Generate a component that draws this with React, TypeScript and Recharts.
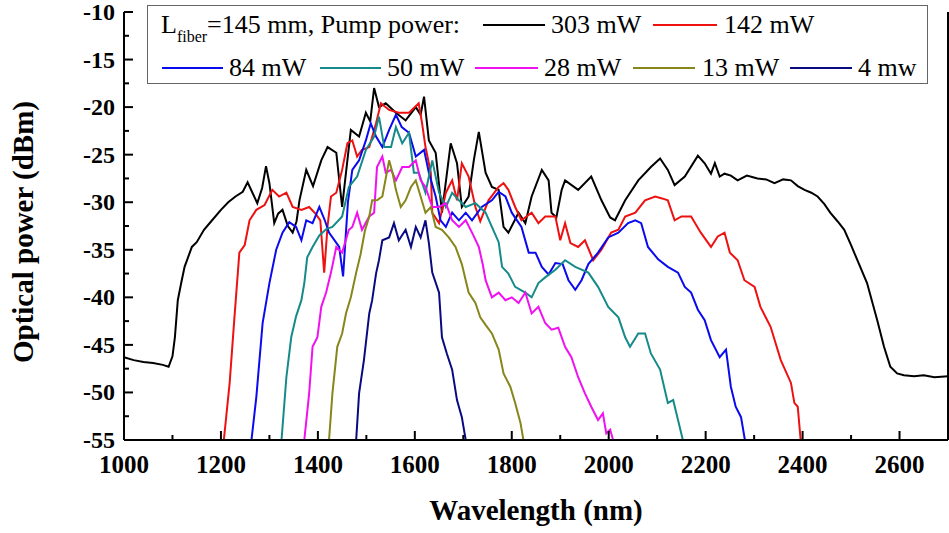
import React from "react";
import { LineChart, Line, XAxis, YAxis } from "recharts";

// 303 mW
const wl303 = [1000, 1020, 1040, 1060, 1080, 1092, 1100, 1105, 1111, 1118, 1125, 1140, 1150, 1165, 1180, 1200, 1215, 1230, 1245, 1255, 1265, 1275, 1285, 1293, 1300, 1310, 1318, 1327, 1338, 1348, 1356, 1362, 1376, 1390, 1407, 1420, 1438, 1450, 1468, 1485, 1499, 1508, 1516, 1526, 1540, 1561, 1581, 1602, 1612, 1619, 1629, 1643, 1656, 1674, 1687, 1697, 1711, 1722, 1732, 1746, 1759, 1773, 1783, 1793, 1814, 1828, 1841, 1862, 1876, 1882, 1892, 1903, 1910, 1937, 1964, 1985, 2003, 2013, 2034, 2061, 2087, 2106, 2122, 2136, 2157, 2184, 2198, 2211, 2219, 2229, 2239, 2252, 2266, 2285, 2307, 2325, 2342, 2360, 2376, 2390, 2404, 2418, 2431, 2445, 2457, 2472, 2486, 2500, 2513, 2533, 2554, 2568, 2581, 2595, 2609, 2630, 2650, 2672, 2700];
const p303 = [-46.3, -46.6, -46.8, -46.9, -47.1, -47.3, -46.2, -44.2, -40.3, -38.5, -36.8, -34.7, -34.2, -32.9, -32.0, -30.8, -30.0, -29.4, -28.9, -27.9, -29.0, -30.1, -28.5, -26.2, -28.0, -32.2, -31.2, -30.8, -32.5, -33.2, -32.0, -29.8, -26.6, -28.3, -25.6, -24.2, -24.8, -30.5, -22.4, -23.1, -20.6, -21.5, -18.0, -20.0, -19.6, -20.6, -21.4, -20.0, -20.8, -18.9, -23.5, -24.8, -31.1, -23.8, -25.9, -30.5, -29.4, -25.5, -22.6, -26.9, -28.4, -28.7, -32.6, -33.2, -31.1, -32.2, -29.4, -26.6, -27.7, -31.1, -31.6, -28.7, -27.7, -28.7, -27.3, -29.8, -31.6, -31.9, -29.8, -27.7, -26.3, -25.4, -26.6, -28.2, -27.3, -25.1, -25.9, -27.0, -25.9, -27.3, -27.0, -27.2, -27.7, -27.2, -27.5, -27.6, -28.0, -27.6, -27.7, -28.3, -28.7, -29.0, -29.4, -30.2, -31.1, -32.0, -32.9, -34.5, -36.1, -38.5, -42.4, -45.2, -47.3, -48.0, -48.2, -48.3, -48.2, -48.4, -48.3];

// 142 mW
const wl142 = [1206, 1218, 1228, 1238, 1249, 1259, 1273, 1290, 1306, 1320, 1335, 1348, 1366, 1382, 1395, 1405, 1413, 1420, 1427, 1438, 1450, 1461, 1471, 1481, 1491, 1506, 1520, 1530, 1547, 1567, 1588, 1608, 1615, 1622, 1633, 1636, 1650, 1664, 1677, 1687, 1697, 1711, 1725, 1735, 1752, 1773, 1783, 1793, 1807, 1820, 1841, 1855, 1869, 1890, 1900, 1910, 1921, 1937, 1951, 1968, 1985, 2005, 2020, 2034, 2055, 2075, 2096, 2110, 2122, 2136, 2150, 2170, 2190, 2211, 2225, 2239, 2250, 2266, 2280, 2301, 2313, 2334, 2355, 2376, 2383, 2390, 2396];
const p142 = [-55, -49, -42, -35.3, -34.5, -31.9, -30.8, -30.3, -28.7, -29.4, -29, -30.5, -30.8, -30.5, -31.2, -31.9, -37.4, -32.5, -29.4, -29, -26.6, -23.8, -23.5, -25.2, -24.5, -24.2, -21.7, -19.6, -20.3, -20.6, -20.6, -19.6, -21.7, -24.2, -26.9, -31.1, -32.2, -29, -27.7, -29.8, -25.9, -27.3, -30.5, -32.0, -29.8, -28.4, -28, -28.7, -30.5, -31.9, -31.1, -32.2, -31.5, -31.5, -34, -32.2, -34.3, -34.7, -34, -36.1, -35, -33.2, -32.9, -31.5, -31.1, -29.8, -29.4, -29.6, -29.8, -31.9, -31.5, -31.5, -33.2, -34.7, -33.6, -33.2, -35.3, -36.1, -38.2, -38.9, -41, -43.1, -46.6, -49, -51.1, -51.5, -55];

// 84 mW
const wl84 = [1263, 1273, 1286, 1300, 1314, 1327, 1341, 1355, 1366, 1376, 1389, 1403, 1415, 1423, 1444, 1452, 1462, 1471, 1485, 1499, 1509, 1520, 1533, 1547, 1561, 1573, 1588, 1602, 1619, 1629, 1643, 1653, 1664, 1677, 1691, 1705, 1718, 1738, 1759, 1773, 1787, 1800, 1820, 1835, 1849, 1862, 1876, 1890, 1905, 1917, 1931, 1944, 1958, 1978, 1999, 2020, 2040, 2055, 2067, 2081, 2102, 2122, 2143, 2157, 2170, 2184, 2198, 2211, 2229, 2242, 2252, 2262, 2273, 2281];
const p84 = [-55, -50.5, -42.7, -38.5, -35, -33.2, -32.1, -32.6, -34, -31.9, -32.2, -30.5, -32.0, -33.2, -34.7, -37.8, -30.0, -26.6, -25.6, -23.5, -21.7, -23.1, -24.2, -22.4, -20.8, -22.1, -22.7, -25.2, -24.5, -26.9, -29.4, -31.9, -32.6, -31.1, -31.9, -31.1, -31.9, -30.5, -29.8, -28.9, -29.4, -31.1, -32.6, -35.3, -35.3, -36.8, -37.6, -36.4, -36.5, -38.2, -39.2, -38.2, -36.5, -35.3, -33.7, -33.2, -32.2, -31.9, -32.2, -34.7, -36.0, -36.8, -37.4, -38.9, -39.5, -41.3, -42.4, -44.5, -46.3, -45.5, -49.4, -51.5, -52.6, -55];

// 50 mW
const wl50 = [1325, 1335, 1345, 1355, 1366, 1372, 1378, 1389, 1403, 1418, 1430, 1450, 1464, 1481, 1499, 1516, 1526, 1537, 1551, 1561, 1574, 1588, 1598, 1608, 1622, 1636, 1650, 1664, 1677, 1691, 1705, 1725, 1746, 1759, 1773, 1780, 1793, 1807, 1828, 1841, 1855, 1869, 1890, 1910, 1931, 1958, 1978, 1999, 2020, 2034, 2044, 2061, 2075, 2087, 2106, 2122, 2133, 2143, 2153];
const p50 = [-55, -48.4, -44.2, -42, -40.3, -38.5, -35.8, -34.7, -33.5, -32.8, -32.6, -31.5, -28.4, -27.3, -24.5, -23.1, -21, -24.2, -24.2, -22.1, -23.8, -22.7, -26.9, -26.9, -29, -25.6, -29, -30.5, -29, -29.8, -30.5, -30.1, -31.1, -32.6, -34.2, -36.8, -37.5, -38.9, -39.5, -40, -38.5, -37.9, -37.1, -36.1, -36.8, -37.4, -38.9, -41, -42.1, -44.2, -45.2, -43.8, -43.8, -45.9, -47.6, -51.1, -50.8, -52.9, -55];

// 28 mW
const wl28 = [1372, 1382, 1389, 1399, 1407, 1417, 1427, 1438, 1450, 1464, 1471, 1481, 1491, 1506, 1516, 1522, 1533, 1540, 1551, 1561, 1574, 1588, 1602, 1612, 1622, 1636, 1650, 1664, 1677, 1691, 1705, 1718, 1732, 1740, 1746, 1759, 1773, 1787, 1800, 1814, 1828, 1841, 1855, 1869, 1882, 1896, 1910, 1923, 1937, 1951, 1964, 1978, 1988, 1995, 2003, 2009];
const p28 = [-55, -50.1, -45.2, -44.2, -41, -39.5, -37.4, -34.7, -35.3, -32.9, -32.6, -31.1, -32.9, -31.5, -31.1, -26.3, -25.2, -26.9, -26.6, -27.7, -26.3, -26.3, -25.6, -27.7, -28.4, -30.5, -30.5, -30.1, -31.9, -32.6, -31.9, -33.2, -34.7, -36.5, -38.2, -40, -39.5, -40.3, -40, -40.6, -39.5, -41.7, -41, -42.7, -43.4, -43.2, -45.2, -46.3, -48.4, -50.1, -51.5, -52.9, -52.2, -54.3, -53.9, -55];

// 13 mW
const wl13 = [1423, 1430, 1440, 1450, 1458, 1468, 1479, 1488, 1497, 1506, 1512, 1522, 1533, 1547, 1554, 1561, 1571, 1581, 1592, 1602, 1612, 1622, 1633, 1643, 1656, 1670, 1684, 1697, 1711, 1725, 1735, 1746, 1759, 1773, 1783, 1797, 1807, 1818, 1824];
const p13 = [-55, -50.1, -45.2, -43.8, -41.7, -40, -37.4, -35.5, -33.0, -31.5, -29.8, -29.8, -29.4, -25.6, -26.9, -28.7, -30.5, -29.8, -28.4, -27.7, -29.4, -31.1, -30.5, -32.6, -32.9, -33.7, -34.7, -36.5, -39.5, -40.6, -42.1, -42.9, -43.8, -45.5, -48, -49.4, -51.1, -53.2, -55];

// 4 mw
const wl4 = [1479, 1485, 1495, 1506, 1512, 1520, 1526, 1533, 1547, 1557, 1567, 1581, 1592, 1602, 1612, 1622, 1629, 1636, 1650, 1656, 1666, 1677, 1687, 1697, 1705];
const p4 = [-55, -50.1, -46.6, -41.7, -40.3, -37.5, -36.1, -34, -33.7, -32.2, -34, -32.9, -34.7, -32.6, -33.7, -31.9, -34.3, -37.4, -39.5, -44.2, -45.9, -47.6, -50.8, -52.6, -55];

const seriesNames = ["303 mW", "142 mW", "84 mW", "50 mW", "28 mW", "13 mW", "4 mw"];
const seriesColors = ["#000000", "#ee1111", "#0a0aee", "#168a8a", "#f010f0", "#86861a", "#0a0a80"];
const seriesWl = [wl303, wl142, wl84, wl50, wl28, wl13, wl4];
const seriesP = [p303, p142, p84, p50, p28, p13, p4];

const xTicks = [1000, 1100, 1200, 1300, 1400, 1500, 1600, 1700, 1800, 1900, 2000, 2100, 2200, 2300, 2400, 2500, 2600, 2700];
const yTicks = [-55, -52.5, -50, -47.5, -45, -42.5, -40, -37.5, -35, -32.5, -30, -27.5, -25, -22.5, -20, -17.5, -15, -12.5, -10];

const FONT = "'Liberation Serif', 'Times New Roman', serif";

const series = seriesNames.map((name, i) => ({
  name,
  color: seriesColors[i],
  data: seriesWl[i].map((wl, j) => ({ wl, p: seriesP[i][j] })),
}));

function XTick({ x, y, payload }: any) {
  const major = payload.value % 200 === 0;
  return (
    <g>
      <line x1={x} y1={y} x2={x} y2={y - (major ? 9 : 5)} stroke="#000" strokeWidth={2} />
      {major && (
        <text x={x} y={y + 33} textAnchor="middle" fontFamily={FONT} fontWeight="bold" fontSize={25} fill="#000">
          {payload.value}
        </text>
      )}
    </g>
  );
}

function YTick({ x, y, payload }: any) {
  const major = payload.value % 5 === 0;
  return (
    <g>
      <line x1={x} y1={y} x2={x + (major ? 9 : 5)} y2={y} stroke="#000" strokeWidth={2} />
      {major && (
        <text x={x - 9} y={y + 8} textAnchor="end" fontFamily={FONT} fontWeight="bold" fontSize={24} fill="#000">
          {payload.value}
        </text>
      )}
    </g>
  );
}

function RightTick({ x, y, payload }: any) {
  const major = payload.value % 5 === 0;
  return <line x1={x} y1={y} x2={x - (major ? 9 : 5)} y2={y} stroke="#000" strokeWidth={2} />;
}

function LegendBox() {
  const row1 = [
    { i: 0, x1: 483, x2: 545, tx: 551 },
    { i: 1, x1: 653, x2: 717, tx: 724 },
  ];
  const row2 = [
    { i: 2, x1: 162, x2: 223, tx: 229 },
    { i: 3, x1: 320, x2: 381, tx: 387 },
    { i: 4, x1: 475, x2: 538, tx: 544 },
    { i: 5, x1: 633, x2: 695, tx: 702 },
    { i: 6, x1: 790, x2: 852, tx: 858 },
  ];
  const item = (it: any, ly: number, ty: number) => (
    <g key={it.i}>
      <line x1={it.x1} y1={ly} x2={it.x2} y2={ly} stroke={seriesColors[it.i]} strokeWidth={2} />
      <text x={it.tx} y={ty} fontFamily={FONT} fontSize={26} fill="#000">
        {seriesNames[it.i]}
      </text>
    </g>
  );
  return (
    <svg width={949} height={533} style={{ position: "absolute", left: 0, top: 0, pointerEvents: "none" }}>
      <rect x={147.5} y={5.5} width={780} height={78} fill="#fff" stroke="#666" strokeWidth={1} />
      <text x={161} y={33} fontFamily={FONT} fontSize={26} fill="#000">
        L
        <tspan fontSize={16} dy={9}>fiber</tspan>
        <tspan fontSize={26} dy={-9}>=145 mm, Pump power:</tspan>
      </text>
      {row1.map((it) => item(it, 25, 33))}
      {row2.map((it) => item(it, 68, 76))}
    </svg>
  );
}

export default function App() {
  return (
    <div style={{ position: "absolute", left: 0, top: 0, width: 949, height: 533, background: "#fff" }}>
      <LineChart width={949} height={533} margin={{ top: 12, right: 0, bottom: 0, left: 0 }}>
        <XAxis
          dataKey="wl"
          type="number"
          domain={[1000, 2700]}
          ticks={xTicks}
          interval={0}
          allowDuplicatedCategory={false}
          height={93}
          tickSize={0}
          tickMargin={0}
          tickLine={false}
          tick={<XTick />}
          axisLine={{ stroke: "#000", strokeWidth: 2 }}
          label={{
            content: (props: any) => {
              const vb = props.viewBox;
              return (
                <text x={vb.x + vb.width / 2} y={520} textAnchor="middle" fontFamily={FONT} fontWeight="bold" fontSize={29} fill="#000">
                  Wavelength (nm)
                </text>
              );
            },
          }}
        />
        <XAxis
          xAxisId="top"
          orientation="top"
          dataKey="wl"
          type="number"
          domain={[1000, 2700]}
          height={0}
          tick={false}
          tickLine={false}
          axisLine={{ stroke: "#000", strokeWidth: 2 }}
        />
        <YAxis
          type="number"
          domain={[-55, -10]}
          ticks={yTicks}
          interval={0}
          width={124}
          tickSize={0}
          tickMargin={0}
          tickLine={false}
          tick={<YTick />}
          axisLine={{ stroke: "#000", strokeWidth: 2 }}
          label={{
            content: () => (
              <text transform="translate(23,232) rotate(-90)" textAnchor="middle" dominantBaseline="central" fontFamily={FONT} fontWeight="bold" fontSize={29} fill="#000">
                Optical power (dBm)
              </text>
            ),
          }}
        />
        <YAxis
          yAxisId="right"
          orientation="right"
          type="number"
          domain={[-55, -10]}
          ticks={yTicks}
          interval={0}
          width={1}
          tickSize={0}
          tickMargin={0}
          tickLine={false}
          tick={<RightTick />}
          axisLine={{ stroke: "#000", strokeWidth: 2 }}
        />
        {series.map((s) => (
          <Line
            key={s.name}
            data={s.data}
            dataKey="p"
            name={s.name}
            type="linear"
            stroke={s.color}
            strokeWidth={2}
            dot={false}
            activeDot={false}
            isAnimationActive={false}
          />
        ))}
      </LineChart>
      <LegendBox />
    </div>
  );
}
